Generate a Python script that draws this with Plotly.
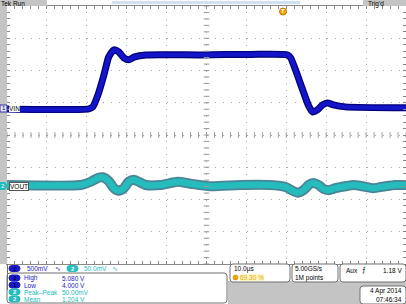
import plotly.graph_objects as go
import numpy as np

W, H = 406, 304

# ---- data: channel 1 (VIN), time in µs relative to trigger, volts ----
vin_t = [-69.3, -48.8, -47.8, -46.5, -45.0, -43.8, -42.5, -41.3, -40.0, -38.8,
         -37.3, -34.5, -20.8, -8.3, 1.0, 1.8, 3.0, 4.8, 6.3, 7.3,
         8.5, 9.8, 11.0, 12.5, 15.5, 30.7]
vin_v = [4.000, 4.000, 4.031, 4.217, 4.527, 4.806, 4.915, 4.884, 4.791, 4.760,
         4.806, 4.837, 4.837, 4.845, 4.837, 4.791, 4.605, 4.295, 4.047, 3.953,
         3.984, 4.062, 4.093, 4.062, 4.031, 4.016]

# ---- data: channel 2 (VOUT) ----
vout_t = [-69.3, -50.8, -48.3, -46.5, -45.3, -43.8, -42.5, -41.3, -40.0, -38.8,
          -37.5, -36.3, -34.5, -30.8, -26.5, -23.3, -18.3, -10.8, -3.3, 0.5,
          2.3, 3.5, 5.0, 6.3, 7.5, 8.8, 10.0, 11.3, 13.0, 15.5,
          17.5, 19.8, 22.5, 25.5, 28.0, 30.7]
vout_v = [1.204, 1.204, 1.209, 1.215, 1.216, 1.210, 1.199, 1.195, 1.199, 1.209,
          1.212, 1.209, 1.204, 1.204, 1.209, 1.206, 1.202, 1.204, 1.204, 1.201,
          1.195, 1.192, 1.196, 1.204, 1.207, 1.204, 1.198, 1.196, 1.199, 1.202,
          1.204, 1.202, 1.199, 1.202, 1.204, 1.204]

# scope settings
ch1_scale, ch2_scale = 0.5, 0.05          # V/div
ch1_ref, ch2_ref = 4.0, 1.204
ch1_pos, ch2_pos = 0.81, -1.55            # divisions
t_per_div = 10.0
t_left = -69.3

meas_labels = ["High", "Low", "Peak\u2013Peak", "Mean"]
meas_values = ["5.080 V", "4.000 V", "50.00mV", "1.204 V"]
meas_ch = [1, 1, 2, 2]

C1 = "#1414c8"
C1E = "#000078"
C2 = "#24bcbc"
C2E = "#4a8496"
FONT = "Liberation Sans"

def px(x):
    return x / W

def py(y):
    return 1 - y / H

# graticule in pixels
GX0, GX1, GY0, GY1 = 7, 406, 6, 264

fig = go.Figure()

y1 = [(v - ch1_ref) / ch1_scale + ch1_pos for v in vin_v]
y2 = [(v - ch2_ref) / ch2_scale + ch2_pos for v in vout_v]

for t, y, ce, cc, we, wc in [(vout_t, y2, C2E, C2, 10, 6.5), (vin_t, y1, C1E, C1, 7, 4.5)]:
    fig.add_trace(go.Scatter(x=t, y=y, mode="lines", line=dict(color=ce, width=we, shape="spline", smoothing=0.6),
                             hoverinfo="skip", showlegend=False))
    fig.add_trace(go.Scatter(x=t, y=y, mode="lines", line=dict(color=cc, width=wc, shape="spline", smoothing=0.6),
                             hoverinfo="skip", showlegend=False))

# centre cross ticks
xc = t_left + 5 * t_per_div
tx = np.arange(t_left, t_left + 10 * t_per_div + 0.01, t_per_div / 5)
ty = np.arange(-4, 4.01, 0.2)
fig.add_trace(go.Scatter(x=tx, y=[0] * len(tx), mode="markers",
                         marker=dict(symbol="line-ns", size=4, line=dict(color="#9a9a9a", width=1)),
                         hoverinfo="skip", showlegend=False))
fig.add_trace(go.Scatter(x=[xc] * len(ty), y=ty, mode="markers",
                         marker=dict(symbol="line-ew", size=4, line=dict(color="#9a9a9a", width=1)),
                         hoverinfo="skip", showlegend=False))

shapes = []
ann = []

def rect(x0, y0, x1, y1, fill, line=None, lw=1, layer="above"):
    shapes.append(dict(type="rect", xref="paper", yref="paper", x0=px(x0), x1=px(x1), y0=py(y1), y1=py(y0),
                       fillcolor=fill, line=dict(color=line or fill, width=lw if line else 0), layer=layer))

def rrect(x0, y0, x1, y1, r, fill, line, lw=1):
    X0, X1, Y0, Y1 = px(x0), px(x1), py(y0), py(y1)
    rx, ry = r / W, r / H
    path = (f"M{X0+rx},{Y0} L{X1-rx},{Y0} Q{X1},{Y0} {X1},{Y0-ry} L{X1},{Y1+ry} Q{X1},{Y1} {X1-rx},{Y1} "
            f"L{X0+rx},{Y1} Q{X0},{Y1} {X0},{Y1+ry} L{X0},{Y0-ry} Q{X0},{Y0} {X0+rx},{Y0} Z")
    shapes.append(dict(type="path", xref="paper", yref="paper", path=path, fillcolor=fill,
                       line=dict(color=line, width=lw), layer="above"))

def text(x, y, s, color="#000000", size=6.5, anchor="left", bg=None, border=None, bold=False, yanchor="middle"):
    if bold:
        s = f"<b>{s}</b>"
    ann.append(dict(x=px(x), y=py(y), xref="paper", yref="paper", text=s, showarrow=False,
                    xanchor=anchor, yanchor=yanchor, font=dict(family=FONT, size=size, color=color),
                    bgcolor=bg, bordercolor=border, borderwidth=1 if border else 0, borderpad=0))

# left grey bar and header
rect(0, 0, GX0, GY1, "#c4c4c4")
rect(0, 0, 47, 6, "#c4c4c4")
rect(112, 1, 300, 4, "#cfe0f2")
rect(363, 0, 406, 6, "#c4c4c4")
text(1, 0, "Tek Run", size=6.5, yanchor="top")
text(368, 0, "Trig'd", size=6.5, yanchor="top")

# trigger marker
shapes.append(dict(type="circle", xref="paper", yref="paper", x0=px(279.5), x1=px(286.5), y0=py(15), y1=py(8),
                   fillcolor="#f2a400", line=dict(color="#c07800", width=1), layer="above"))
text(283, 11.5, "T", color="#ffffff", size=6, anchor="center", bold=True)

# channel markers
rect(0, 105, 7, 112, "#e6e6f6", line="#3030a0")
text(3.5, 108.5, "1", color="#000080", size=6, anchor="center")
text(9, 108.5, "VIN", color="#000000", size=6.5, bg="#ffffff")
shapes.append(dict(type="path", xref="paper", yref="paper",
                   path=f"M{px(0)},{py(182)} L{px(5)},{py(182)} L{px(8)},{py(186)} L{px(5)},{py(190)} L{px(0)},{py(190)} Z",
                   fillcolor=C2, line=dict(color=C2, width=0), layer="above"))
text(3, 186, "2", color="#ffffff", size=6, anchor="center")
text(9, 186, "VOUT", color="#000000", size=6.5, bg="#ffffff", border="#555555")

# bottom readouts
rect(228, 281, 406, 304, "#c4c4c4", layer="below")
rrect(7, 273, 227, 303, 3, "#ffffff", "#707070")
shapes.append(dict(type="line", xref="paper", yref="paper", x0=px(7.5), x1=px(7.5), y0=py(264), y1=py(290),
                   line=dict(color="#707070", width=1), layer="above"))

def pill(x, y, n, fill, tcol):
    rrect(x, y - 3, x + 11, y + 3, 3, fill, fill)
    text(x + 5.5, y, str(n), color=tcol, size=6, anchor="center", bold=True)

pill(9, 268.5, 1, "#1a1ac8", "#000040")
text(27, 268.5, "500mV", color="#1a1ac8")
text(55, 268.5, "\u223f", color="#1a1ac8")
pill(67, 268.5, 2, C2, "#ffffff")
text(84, 268.5, "50.0mV", color=C2)
text(112, 268.5, "\u223f", color=C2)

rows_y = [278, 285, 292, 299]
for yy, lab, val, ch in zip(rows_y, meas_labels, meas_values, meas_ch):
    col = "#1a1ac8" if ch == 1 else C2
    pill(9, yy, ch, "#1a1ac8" if ch == 1 else C2, "#000040" if ch == 1 else "#ffffff")
    text(24, yy, lab, color=col)
    text(62, yy, val, color=col)

rrect(230, 264, 290, 282, 3, "#ffffff", "#707070")
text(234, 268.5, "10.0\u00b5s", color="#000000")
shapes.append(dict(type="circle", xref="paper", yref="paper", x0=px(233), x1=px(238), y0=py(280), y1=py(275),
                   fillcolor="#f2a400", line=dict(color="#c07800", width=0.5), layer="above"))
text(240, 277.5, "69.30 %", color="#e0a800", bg="#fff6c8")

rrect(292, 264, 338, 282, 3, "#ffffff", "#707070")
text(295, 268.5, "5.00GS/s", color="#000000")
text(295, 277.5, "1M points", color="#000000")

rrect(340, 264, 406, 282, 3, "#ffffff", "#707070")
text(346, 270, "Aux", color="#000000")
text(362, 270, "\u2a0d", color="#000000")
text(402, 270, "1.18 V", color="#000000", anchor="right")

rrect(360, 286, 406, 304, 3, "#ffffff", "#707070")
text(402, 291, "4 Apr 2014", color="#000000", anchor="right")
text(402, 299, "07:46:34", color="#000000", anchor="right")

fig.update_layout(
    width=W, height=H, margin=dict(l=0, r=0, t=0, b=0),
    paper_bgcolor="#ffffff", plot_bgcolor="#ffffff",
    shapes=shapes, annotations=ann,
    xaxis=dict(domain=[px(GX0), px(GX1)], range=[t_left, t_left + 10 * t_per_div],
               tick0=t_left, dtick=t_per_div, showticklabels=False,
               showgrid=True, gridcolor="#a8a8a8", griddash="1px,5.45px", gridwidth=1,
               zeroline=False, showline=True, linecolor="#888888", mirror="ticks",
               ticks="inside", ticklen=3, tickcolor="#888888",
               minor=dict(dtick=t_per_div / 5, tick0=t_left, ticks="inside", ticklen=3,
                          tickcolor="#888888", showgrid=False),
               fixedrange=True),
    yaxis=dict(domain=[py(GY1), py(GY0)], range=[-4, 4], tick0=-4, dtick=1, showticklabels=False,
               showgrid=True, gridcolor="#a8a8a8", griddash="1px,7px", gridwidth=1,
               zeroline=False, showline=True, linecolor="#888888", mirror="ticks",
               ticks="inside", ticklen=3, tickcolor="#888888",
               minor=dict(dtick=0.2, tick0=-4, ticks="inside", ticklen=3,
                          tickcolor="#888888", showgrid=False),
               fixedrange=True),
)

fig.write_html("out.html")
